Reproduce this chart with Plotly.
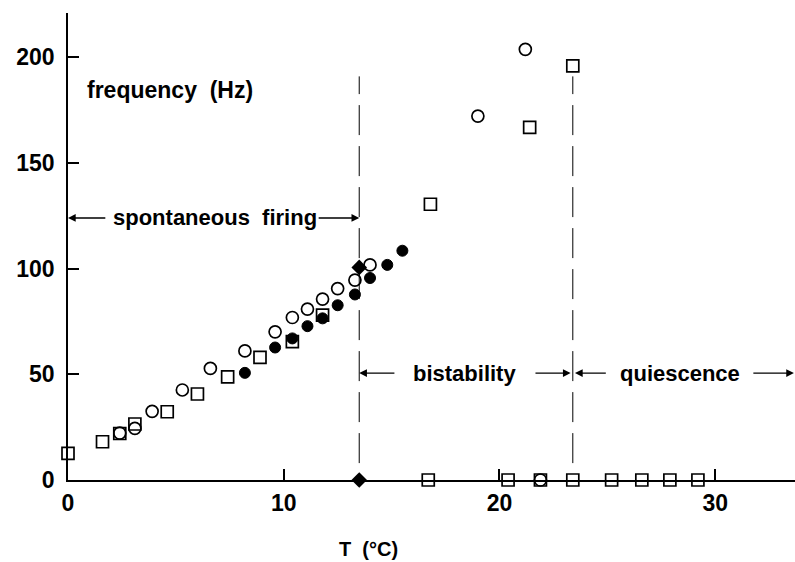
import plotly.graph_objects as go

# ---- data (temperature in °C, frequency in Hz) ----
sq_T = [0.0, 1.6, 2.4, 3.1, 4.6, 6.0, 7.4, 8.9, 10.4, 11.8, 16.8, 21.4, 23.4,
        16.7, 20.4, 21.9, 23.4, 25.2, 26.6, 27.9, 29.2]
sq_F = [12.6, 18.1, 22.0, 26.5, 32.3, 40.7, 48.8, 58.0, 65.5, 78.0, 130.5, 166.9, 196.0,
        0, 0, 0, 0, 0, 0, 0, 0]

oc_T = [2.4, 3.1, 3.9, 5.3, 6.6, 8.2, 9.6, 10.4, 11.1, 11.8, 12.5, 13.3, 14.0, 19.0, 21.2, 21.9]
oc_F = [22.2, 24.4, 32.5, 42.6, 52.8, 61.1, 70.1, 76.9, 80.9, 85.6, 90.6, 94.6, 101.8, 172.2, 203.8, 0]

fc_T = [8.2, 9.6, 10.4, 11.1, 11.8, 12.5, 13.3, 14.0, 14.8, 15.5]
fc_F = [50.7, 62.7, 67.0, 72.8, 76.5, 82.7, 87.8, 95.6, 101.8, 108.5]

dm_T = [13.5, 13.5]
dm_F = [100.6, 0]

boundaries_T = [13.5, 23.4]
x_ticks = [0, 10, 20, 30]
y_ticks = [0, 50, 100, 150, 200]

FONT = "Liberation Sans, Arial, Helvetica, sans-serif"

fig = go.Figure()
fig.add_trace(go.Scatter(x=sq_T, y=sq_F, mode="markers", cliponaxis=False,
                         marker=dict(symbol="square-open", size=12, color="black",
                                     line=dict(width=1.7, color="black"))))
fig.add_trace(go.Scatter(x=oc_T, y=oc_F, mode="markers", cliponaxis=False,
                         marker=dict(symbol="circle-open", size=12, color="black",
                                     line=dict(width=1.7, color="black"))))
fig.add_trace(go.Scatter(x=fc_T, y=fc_F, mode="markers", cliponaxis=False,
                         marker=dict(symbol="circle", size=11, color="black",
                                     line=dict(width=1, color="black"))))
fig.add_trace(go.Scatter(x=dm_T, y=dm_F, mode="markers", cliponaxis=False,
                         marker=dict(symbol="diamond", size=12, color="black")))

# dashed boundaries
for bt in boundaries_T:
    fig.add_shape(type="line", xref="x", yref="y", x0=bt, x1=bt, y0=8, y1=191,
                  line=dict(color="black", width=1, dash="30px,11px"))

ann = []
def label(text, x, y, size=22, anchor="center", yref="y"):
    ann.append(dict(text=text, x=x, y=y, xref="x", yref=yref, showarrow=False,
                    xanchor=anchor, yanchor="middle",
                    font=dict(family=FONT, size=size, color="black")))

def arrow(x_tail, x_tip, y):
    ann.append(dict(text="", x=x_tip, y=y, ax=x_tail, ay=y, xref="x", yref="y",
                    axref="x", ayref="y", showarrow=True, arrowhead=2,
                    arrowsize=1.1, arrowwidth=1.4, arrowcolor="black", standoff=0,
                    startstandoff=0))

label("<b>frequency\u00a0\u00a0(Hz)</b>", 0.8, 184.5, size=23, anchor="left")
label("<b>spontaneous\u00a0\u00a0firing</b>", 6.8, 124)
arrow(1.8, 0.0, 124)
arrow(11.55, 13.5, 124)
label("<b>bistability</b>", 18.4, 50.6)
arrow(15.2, 13.5, 50.6)
arrow(21.6, 23.3, 50.6)
label("<b>quiescence</b>", 28.35, 50.6)
arrow(25.0, 23.5, 50.6)
arrow(31.7, 33.65, 50.6)
label("<b>T\u00a0\u00a0(°C)</b>", 13.95, -0.148, size=20, yref="paper")

fig.update_layout(
    width=795, height=562,
    margin=dict(l=68, r=0, t=13, b=82),
    paper_bgcolor="white", plot_bgcolor="white",
    showlegend=False,
    annotations=ann,
    font=dict(family=FONT, color="black"),
    xaxis=dict(range=[0, 33.7], tickvals=x_ticks, ticktext=[f"<b>{v}</b>" for v in x_ticks],
               ticks="inside", ticklen=11, tickwidth=1.5, tickcolor="black",
               showline=True, linecolor="black", linewidth=1.5, showgrid=False,
               zeroline=False, tickfont=dict(family=FONT, size=23, color="black"),
               ticklabelstandoff=2),
    yaxis=dict(range=[0, 221], tickvals=y_ticks, ticktext=[f"<b>{v}</b>" for v in y_ticks],
               ticks="inside", ticklen=11, tickwidth=1.5, tickcolor="black",
               showline=True, linecolor="black", linewidth=1.5, showgrid=False,
               zeroline=False, tickfont=dict(family=FONT, size=23, color="black"),
               ticklabelstandoff=7),
)

fig.write_html("out.html")
